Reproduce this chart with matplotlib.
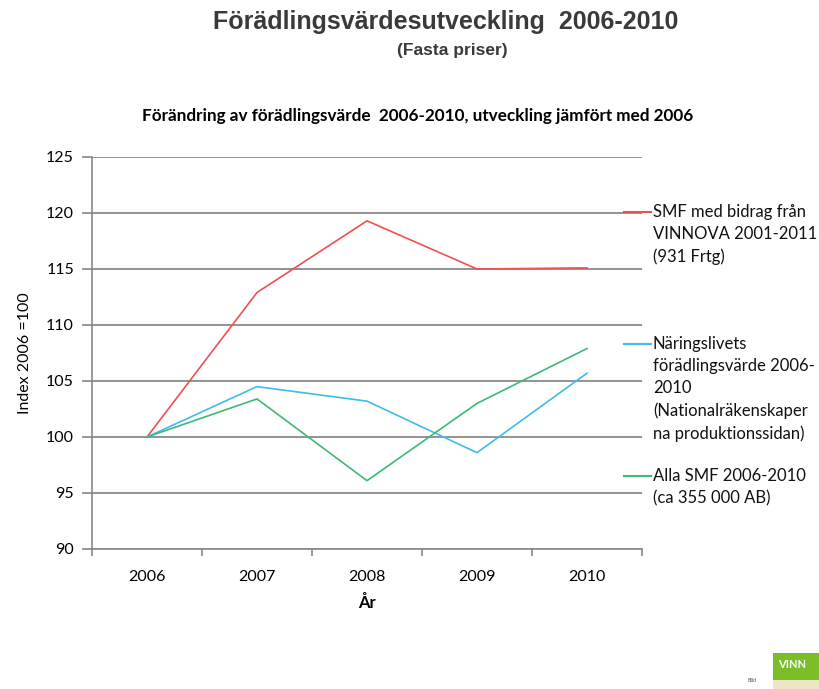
import matplotlib
matplotlib.use("Agg")
import matplotlib.pyplot as plt
from matplotlib.patches import Rectangle

years = ["2006", "2007", "2008", "2009", "2010"]
smf_vinnova = [100.0, 112.9, 119.3, 115.0, 115.1]
naringsliv = [100.0, 104.5, 103.2, 98.6, 105.7]
alla_smf = [100.0, 103.4, 96.1, 103.0, 107.9]

series_labels = [
    "SMF med bidrag från\nVINNOVA 2001-2011\n(931 Frtg)",
    "Näringslivets\nförädlingsvärde 2006-\n2010\n(Nationalräkenskaper\nna produktionssidan)",
    "Alla SMF 2006-2010\n(ca 355 000 AB)",
]
colors = ["#ef5050", "#3dbdec", "#3cba78"]
y_ticks = [90, 95, 100, 105, 110, 115, 120, 125]

body_font = ["Lato", "DejaVu Sans"]
title_font = ["Liberation Sans", "DejaVu Sans"]

fig = plt.figure(figsize=(8.2, 6.89), dpi=100)
ax = fig.add_axes([92 / 820, 140 / 689, 550 / 820, 392 / 689])

x = range(len(years))
for vals, col in zip([smf_vinnova, naringsliv, alla_smf], colors):
    ax.plot(x, vals, color=col, linewidth=1.2, zorder=3)

ax.set_xlim(-0.5, len(years) - 0.5)
ax.set_ylim(90, 125)
ax.set_xticks(list(x))
ax.set_xticklabels(years, fontfamily=body_font, fontsize=11.5)
ax.set_yticks(y_ticks)
ax.set_yticklabels([str(v) for v in y_ticks], fontfamily=body_font, fontsize=11.5)
ax.set_xticks([i - 0.5 for i in range(len(years) + 1)], minor=True)
ax.tick_params(axis="x", which="major", length=0, pad=15)
ax.tick_params(axis="x", which="minor", length=5, color="#888888", width=1.2)
ax.tick_params(axis="y", length=7, color="#888888", width=1.2, pad=6)

ax.grid(axis="y", color="#808080", linewidth=1.2, zorder=1)
for side in ["top", "right"]:
    ax.spines[side].set_visible(False)
for side in ["left", "bottom"]:
    ax.spines[side].set_color("#888888")
    ax.spines[side].set_linewidth(1.2)

ax.set_ylabel("Index 2006 =100", fontfamily=body_font, fontsize=11.5, labelpad=10)
ax.set_xlabel("År", fontfamily=body_font, fontsize=12, fontweight="bold", labelpad=8)

# legend entries to the right of the plot, drawn by hand like the Excel original
legend_y = [212, 344, 476]
for label, col, ly in zip(series_labels, colors, legend_y):
    yf = 1 - ly / 689
    fig.add_artist(plt.Line2D([624 / 820, 651 / 820], [yf, yf], color=col, linewidth=1.5))
    fig.text(653 / 820, yf + 8 / 689, label, fontfamily=body_font, fontsize=12,
             va="top", ha="left", linespacing=1.46, color="#111111")

fig.text(446 / 820, 1 - 22 / 689, "Förädlingsvärdesutveckling  2006-2010",
         fontfamily=title_font, fontsize=18, fontweight="bold", color="#3a3a3a",
         ha="center", va="center")
fig.text(452 / 820, 1 - 50 / 689, "(Fasta priser)", fontfamily=title_font,
         fontsize=12.5, fontweight="bold", color="#3a3a3a", ha="center", va="center")
fig.text(418 / 820, 1 - 116 / 689,
         "Förändring av förädlingsvärde  2006-2010, utveckling jämfört med 2006",
         fontfamily=body_font, fontsize=12.3, fontweight="bold", ha="center", va="center")

# logo fragment bottom right
fig.add_artist(Rectangle((773 / 820, 8 / 689), 47 / 820, 28 / 689,
                         transform=fig.transFigure, facecolor="#7cbd2a", edgecolor="none"))
fig.add_artist(Rectangle((773 / 820, 0), 47 / 820, 9 / 689,
                         transform=fig.transFigure, facecolor="#efe6c8", edgecolor="none"))
fig.text(778 / 820, 24 / 689, "VINN", fontfamily=body_font, fontsize=8,
         fontweight="bold", color="white", va="center")
fig.text(748 / 820, 7 / 689, "Bild", fontfamily=body_font, fontsize=4, color="#555555")

fig.savefig("out.png", dpi=100)
